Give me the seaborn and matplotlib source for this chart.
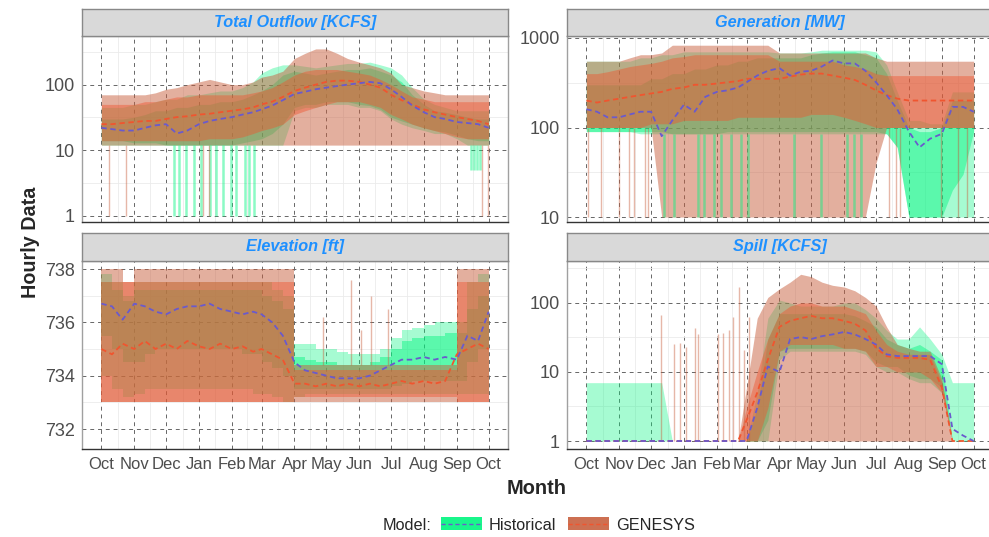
import pandas as pd
import matplotlib
matplotlib.use("Agg")
import matplotlib.pyplot as plt
import matplotlib.ticker as mticker
from matplotlib.patches import Patch
from matplotlib.lines import Line2D
import seaborn as sns

# x grid: 1st, 11th and 21st of every month of the water year, plus the closing Oct 1
months = [(2000, 10), (2000, 11), (2000, 12)] + [(2001, m) for m in range(1, 10)]
dates = [pd.Timestamp(y, m, d) for y, m in months for d in (1, 11, 21)] + [pd.Timestamp(2001, 10, 1)]
month_ticks = [pd.Timestamp(y, m, 1) for y, m in months] + [pd.Timestamp(2001, 10, 1)]
month_labels = ["Oct", "Nov", "Dec", "Jan", "Feb", "Mar", "Apr", "May", "Jun", "Jul", "Aug", "Sep", "Oct"]
start = month_ticks[0]

# ---- Total Outflow [KCFS] ----
outflow_hist_lo = [12, 12, 12, 12, 12, 12, 12, 12, 12, 12, 12, 12, 12, 12, 12, 12, 12, 12, 40, 45, 45, 50, 50, 50, 45, 45, 40, 30, 25, 22, 20, 18, 18, 15, 12, 12, 12]
outflow_hist_in_lo = [14, 14, 14, 13, 13, 13, 12, 12, 12, 12, 12, 12, 12, 13, 14, 15, 18, 25, 45, 50, 50, 55, 55, 55, 50, 48, 42, 32, 28, 25, 22, 20, 19, 17, 15, 14, 14]
outflow_hist_in_hi = [30, 30, 30, 32, 35, 40, 40, 45, 45, 50, 50, 55, 55, 60, 70, 80, 100, 140, 160, 150, 140, 150, 160, 170, 170, 180, 160, 140, 110, 70, 50, 40, 38, 35, 32, 30, 30]
outflow_hist_hi = [45, 45, 45, 50, 50, 55, 60, 60, 70, 70, 75, 80, 80, 90, 110, 150, 180, 200, 200, 190, 180, 190, 200, 210, 210, 220, 200, 180, 140, 90, 60, 50, 45, 40, 40, 40, 40]
outflow_hist_mean = [22, 21, 20, 20, 22, 24, 25, 18, 20, 25, 28, 30, 32, 35, 38, 42, 48, 58, 72, 78, 85, 90, 95, 100, 105, 110, 105, 85, 65, 48, 38, 32, 30, 27, 26, 25, 22]
outflow_gen_lo = [12] * 37
outflow_gen_hi = [70, 70, 70, 70, 70, 75, 85, 90, 100, 110, 120, 110, 100, 100, 110, 130, 140, 160, 250, 300, 350, 350, 300, 250, 220, 200, 180, 150, 100, 90, 80, 75, 70, 70, 70, 70, 70]
outflow_gen_tr_lo = [14, 14, 14, 14, 14, 14, 14, 14, 14, 14, 15, 15, 15, 16, 18, 20, 22, 25, 35, 40, 45, 50, 55, 55, 55, 50, 45, 35, 30, 25, 22, 20, 18, 16, 15, 15, 15]
outflow_gen_tr_hi = [50, 50, 50, 50, 55, 55, 60, 65, 65, 70, 70, 70, 70, 70, 75, 80, 90, 110, 140, 160, 170, 170, 170, 160, 150, 140, 120, 100, 80, 65, 60, 55, 55, 55, 55, 55, 55]
outflow_gen_mean = [25, 25, 26, 27, 28, 28, 30, 32, 33, 35, 36, 38, 40, 42, 45, 50, 55, 65, 80, 90, 100, 110, 115, 115, 110, 100, 90, 70, 58, 50, 42, 38, 35, 32, 30, 28, 25]
# short drop-outs (days after Oct 1, bottom value, top value)
outflow_hist_drop_day = [68, 73, 80, 87, 94, 102, 108, 115, 122, 127, 135, 139, 144, 348, 351, 354, 357]
outflow_hist_drop_lo = [1] * 13 + [5, 5, 5, 5]
outflow_hist_drop_hi = [12] * 17
outflow_gen_drop_day = [7, 23, 96, 101, 359, 364]
outflow_gen_drop_lo = [1] * 6
outflow_gen_drop_hi = [12] * 6

# ---- Generation [MW] ----
gen_hist_lo = [90, 90, 90, 90, 90, 85, 85, 85, 85, 85, 85, 85, 85, 85, 85, 85, 85, 85, 85, 85, 85, 85, 85, 85, 85, 85, 85, 85, 85, 60, 10, 10, 10, 10, 10, 10, 10]
gen_hist_in_lo = [90, 90, 90, 90, 90, 90, 90, 90, 85, 85, 85, 85, 85, 90, 90, 90, 90, 90, 90, 90, 90, 90, 90, 90, 90, 90, 90, 90, 85, 60, 10, 10, 10, 10, 20, 30, 90]
gen_hist_in_hi = [300, 300, 300, 300, 300, 300, 350, 350, 400, 400, 450, 450, 500, 500, 550, 550, 600, 600, 600, 600, 600, 650, 680, 700, 700, 700, 650, 600, 400, 200, 100, 90, 90, 100, 200, 200, 200]
gen_hist_hi = [550, 550, 550, 550, 550, 600, 600, 650, 650, 700, 700, 700, 700, 700, 700, 700, 700, 700, 680, 680, 680, 700, 730, 730, 730, 730, 730, 700, 500, 250, 120, 120, 110, 110, 250, 250, 250]
gen_hist_mean = [160, 150, 130, 130, 140, 150, 150, 80, 120, 180, 150, 220, 250, 260, 280, 320, 380, 430, 460, 380, 420, 430, 480, 560, 520, 520, 430, 320, 230, 160, 90, 60, 75, 85, 170, 170, 150]
gen_gen_lo = [100, 100, 100, 100, 100, 100, 100, 10, 10, 10, 10, 10, 10, 10, 10, 10, 10, 10, 10, 10, 10, 10, 10, 10, 10, 10, 10, 40, 100, 100, 100, 100, 100, 100, 100, 100, 100]
gen_gen_hi = [550, 550, 550, 550, 600, 650, 650, 680, 830, 830, 830, 830, 830, 830, 830, 830, 830, 830, 680, 680, 680, 680, 680, 680, 680, 680, 680, 600, 550, 550, 550, 550, 550, 550, 550, 550, 550]
gen_gen_tr_lo = [100, 100, 100, 100, 100, 100, 110, 110, 110, 120, 120, 120, 120, 120, 130, 130, 130, 130, 130, 130, 130, 140, 140, 140, 130, 120, 110, 100, 100, 100, 100, 100, 100, 100, 100, 100, 100]
gen_gen_tr_hi = [400, 400, 420, 450, 480, 500, 520, 550, 600, 620, 650, 650, 650, 650, 650, 650, 650, 650, 550, 550, 550, 550, 550, 550, 500, 480, 450, 400, 380, 380, 380, 380, 380, 380, 380, 380, 380]
gen_gen_mean = [200, 190, 200, 210, 220, 230, 240, 250, 270, 280, 300, 300, 310, 320, 330, 350, 350, 350, 350, 370, 390, 400, 400, 380, 360, 340, 300, 260, 230, 210, 200, 200, 200, 200, 200, 200, 200]
gen_hist_drop_day = [73, 83, 105, 111, 120, 127, 136, 146, 152, 196, 221, 246, 252, 259]
gen_hist_drop_lo = [10] * 14
gen_hist_drop_hi = [85] * 14
gen_gen_drop_day = [2, 14, 31, 40, 45, 55, 58, 285, 292, 296, 334, 350, 359]
gen_gen_drop_lo = [10] * 13
gen_gen_drop_hi = [100] * 13

# ---- Elevation [ft] ----
elev_hist_lo = [734.0, 733.5, 733.2, 733.3, 733.5, 733.5, 733.5, 733.5, 733.5, 733.5, 733.5, 733.5, 733.5, 733.5, 733.3, 733.3, 733.2, 733.0, 733.2, 733.3, 733.3, 733.3, 733.3, 733.3, 733.3, 733.3, 733.3, 733.3, 733.3, 733.3, 733.3, 733.3, 733.3, 733.3, 733.3, 733.3, 733.3]
elev_hist_in_lo = [735.5, 735.0, 734.5, 734.5, 734.8, 735.0, 735.0, 735.0, 735.0, 735.0, 735.0, 735.0, 735.0, 734.8, 734.8, 734.5, 734.3, 734.0, 733.5, 733.5, 733.5, 733.5, 733.5, 733.5, 733.5, 733.5, 733.5, 733.6, 733.7, 733.8, 733.8, 733.8, 733.8, 733.8, 734.5, 735.0, 735.5]
elev_hist_in_hi = [737.5, 737.2, 736.8, 737.2, 737.2, 737.2, 737.2, 737.2, 737.2, 737.2, 737.2, 737.2, 737.2, 737.2, 737.2, 737.0, 736.8, 736.5, 734.7, 734.6, 734.5, 734.5, 734.4, 734.4, 734.4, 734.5, 734.7, 735.0, 735.3, 735.4, 735.5, 735.5, 735.6, 735.6, 736.5, 737.0, 737.2]
elev_hist_hi = [737.8, 737.5, 737.0, 737.5, 737.5, 737.5, 737.5, 737.5, 737.5, 737.5, 737.5, 737.5, 737.5, 737.5, 737.5, 737.5, 737.2, 737.0, 735.2, 735.2, 735.0, 735.0, 734.9, 734.8, 734.8, 734.8, 735.0, 735.4, 735.7, 735.8, 735.9, 736.0, 736.0, 736.0, 737.5, 737.8, 737.8]
elev_hist_mean = [736.7, 736.6, 736.1, 736.7, 736.6, 736.4, 736.3, 736.5, 736.6, 736.6, 736.7, 736.5, 736.4, 736.3, 736.4, 736.3, 736.0, 735.5, 734.5, 734.2, 734.1, 734.0, 733.9, 733.9, 733.9, 734.0, 734.2, 734.4, 734.6, 734.6, 734.7, 734.6, 734.7, 734.6, 735.5, 735.3, 736.4]
elev_gen_lo = [733.0] * 37
elev_gen_hi = [738, 738, 737.5, 738, 738, 738, 738, 738, 738, 738, 738, 738, 738, 738, 738, 738, 738, 738, 734.4, 734.4, 734.4, 734.4, 734.4, 734.4, 734.4, 734.4, 734.4, 734.4, 734.4, 734.4, 734.4, 734.4, 734.4, 738, 738, 738, 738]
elev_gen_tr_lo = [733.0] * 18 + [733.2] * 15 + [733.0] * 4
elev_gen_tr_hi = [737.5] * 18 + [734.2] * 15 + [737.5] * 4
elev_gen_mean = [735.0, 734.8, 735.2, 735.0, 735.3, 735.0, 735.2, 735.0, 735.3, 735.1, 735.0, 735.2, 735.0, 735.1, 734.9, 735.0, 734.8, 734.6, 733.7, 733.7, 733.6, 733.7, 733.6, 733.7, 733.6, 733.7, 733.6, 733.7, 733.8, 733.7, 733.8, 733.7, 733.8, 734.8, 735.0, 735.2, 735.0]
elev_hist_drop_day = []
elev_hist_drop_lo = []
elev_hist_drop_hi = []
elev_gen_drop_day = [209, 235, 245, 254, 270]
elev_gen_drop_lo = [734.4] * 5
elev_gen_drop_hi = [736.2, 737.6, 735.7, 737.0, 736.5]

# ---- Spill [KCFS] ----
spill_hist_lo = [1, 1, 1, 1, 1, 1, 1, 1, 1, 1, 1, 1, 1, 1, 1, 1, 1, 1, 15, 20, 20, 20, 20, 20, 20, 20, 18, 12, 10, 10, 8, 7, 7, 5, 1, 1, 1]
spill_hist_in_lo = [1, 1, 1, 1, 1, 1, 1, 1, 1, 1, 1, 1, 1, 1, 1, 1, 1, 2, 20, 22, 22, 22, 22, 22, 22, 22, 20, 14, 12, 12, 9, 8, 8, 6, 1, 1, 1]
spill_hist_in_hi = [1, 1, 1, 1, 1, 1, 1, 1, 1, 1, 1, 1, 1, 1, 1, 1, 3, 30, 70, 70, 70, 70, 70, 70, 70, 65, 55, 45, 30, 25, 22, 25, 20, 15, 1, 1, 1]
spill_hist_hi = [7, 7, 7, 7, 7, 7, 7, 7, 1, 1, 1, 1, 1, 1, 1, 1, 5, 60, 110, 100, 90, 90, 90, 90, 100, 100, 80, 60, 40, 30, 30, 45, 30, 18, 7, 7, 7]
spill_hist_mean = [1, 1, 1, 1, 1, 1, 1, 1, 1, 1, 1, 1, 1, 1, 1, 1, 3, 12, 10, 30, 32, 30, 33, 35, 38, 35, 30, 25, 18, 17, 17, 17, 17, 13, 1.5, 1.2, 1]
spill_gen_lo = [1] * 37
spill_gen_hi = [1, 1, 1, 1, 1, 1, 1, 1, 1, 1, 1, 1, 1, 1, 1, 6, 60, 120, 160, 200, 260, 240, 200, 180, 170, 150, 120, 90, 45, 25, 22, 20, 20, 8, 1, 1, 1]
spill_gen_tr_lo = [1] * 17 + [3, 20, 25, 25, 25, 25, 25, 22, 22, 20, 12, 12, 10, 10, 10, 8, 5, 1, 1, 1]
spill_gen_tr_hi = [1, 1, 1, 1, 1, 1, 1, 1, 1, 1, 1, 1, 1, 1, 1, 3, 10, 30, 70, 90, 100, 100, 90, 90, 90, 80, 70, 40, 25, 20, 18, 18, 18, 7, 1, 1, 1]
spill_gen_mean = [1, 1, 1, 1, 1, 1, 1, 1, 1, 1, 1, 1, 1, 1, 1, 2, 5, 15, 45, 55, 60, 65, 60, 60, 55, 50, 40, 22, 17, 16, 16, 16, 15, 6, 1, 1, 1]
spill_hist_drop_day = []
spill_hist_drop_lo = []
spill_hist_drop_hi = []
spill_gen_drop_day = [70, 83, 88, 94, 102, 105, 124, 129, 134, 138, 144, 149, 153]
spill_gen_drop_lo = [1] * 13
spill_gen_drop_hi = [67, 25, 26, 23, 43, 35, 35, 37, 41, 63, 170, 21, 63]

HIST_FILL = "#00F57F"
HIST_LINE = "#6A5ACD"
GEN_FILL = "#C8603F"
GEN_LINE = "#F0552F"

sns.set_style("white")
plt.rcParams["font.family"] = ["Liberation Sans", "DejaVu Sans"]

W, H = 989, 537
fig = plt.figure(figsize=(W / 100, H / 100), dpi=100)


def px_axes(x0, y0, x1, y1):
    return fig.add_axes([x0 / W, 1 - y1 / H, (x1 - x0) / W, (y1 - y0) / H])


def panel(title, box, strip, log, ylim, yticks, labels, prefix):
    g = globals()
    return dict(title=title, box=box, strip=strip, log=log, ylim=ylim, yticks=yticks, labels=labels,
                **{k: g[prefix + "_" + k] for k in [
                    "hist_lo", "hist_in_lo", "hist_in_hi", "hist_hi", "hist_mean",
                    "gen_lo", "gen_hi", "gen_tr_lo", "gen_tr_hi", "gen_mean",
                    "hist_drop_day", "hist_drop_lo", "hist_drop_hi",
                    "gen_drop_day", "gen_drop_lo", "gen_drop_hi"]})


panels = [
    panel("Total Outflow [KCFS]", (82, 36, 508, 222), (9, 36), True, (0.81, 550), [1, 10, 100], False, "outflow"),
    panel("Generation [MW]", (567, 36, 993, 222), (9, 36), True, (8.8, 1052), [10, 100, 1000], False, "gen"),
    panel("Elevation [ft]", (82, 261, 508, 449), (233, 261), False, (731.25, 738.3), [732, 734, 736, 738], True, "elev"),
    panel("Spill [KCFS]", (567, 261, 993, 449), (233, 261), True, (0.766, 405), [1, 10, 100], True, "spill"),
]

pad = pd.Timedelta(days=18.25)
minor_x = [a + (b - a) / 2 for a, b in zip(month_ticks[:-1], month_ticks[1:])]
dash = (0, (4, 4))

for p in panels:
    x0, y0, x1, y1 = p["box"]
    ax = px_axes(x0, y0, x1, y1)
    step = None if p["log"] else "post"

    ax.fill_between(dates, p["hist_lo"], p["hist_hi"], color=HIST_FILL, alpha=0.35, lw=0, step=step)
    ax.fill_between(dates, p["hist_in_lo"], p["hist_in_hi"], color=HIST_FILL, alpha=0.45, lw=0, step=step)
    hd = [start + pd.Timedelta(days=d) for d in p["hist_drop_day"]]
    if hd:
        ax.vlines(hd, p["hist_drop_lo"], p["hist_drop_hi"], color=HIST_FILL, alpha=0.45, lw=1.8)
    ax.fill_between(dates, p["gen_lo"], p["gen_hi"], color=GEN_FILL, alpha=0.5, lw=0, step=step)
    gd = [start + pd.Timedelta(days=d) for d in p["gen_drop_day"]]
    if gd:
        ax.vlines(gd, p["gen_drop_lo"], p["gen_drop_hi"], color=GEN_FILL, alpha=0.45, lw=1.0)
    ax.fill_between(dates, p["gen_tr_lo"], p["gen_tr_hi"], color=GEN_LINE, alpha=0.45, lw=0, step=step)

    lines = pd.DataFrame({
        "date": dates * 2,
        "value": list(p["gen_mean"]) + list(p["hist_mean"]),
        "Model": ["GENESYS"] * len(dates) + ["Historical"] * len(dates),
    })
    sns.lineplot(data=lines, x="date", y="value", hue="Model", style="Model",
                 hue_order=["GENESYS", "Historical"],
                 palette={"GENESYS": GEN_LINE, "Historical": HIST_LINE},
                 dashes={"GENESYS": (3, 2), "Historical": (3, 2)},
                 lw=1.3, legend=False, ax=ax)

    if p["log"]:
        ax.set_yscale("log")
        ax.yaxis.set_minor_locator(mticker.FixedLocator([t * 10 ** 0.5 for t in p["yticks"]]))
    else:
        ax.yaxis.set_minor_locator(mticker.FixedLocator([733, 735, 737]))
    ax.set_ylim(*p["ylim"])
    ax.yaxis.set_major_locator(mticker.FixedLocator(p["yticks"]))
    ax.yaxis.set_major_formatter(mticker.FixedFormatter([str(t) for t in p["yticks"]]))
    ax.yaxis.set_minor_formatter(mticker.NullFormatter())

    ax.set_xlim(month_ticks[0] - pad, month_ticks[-1] + pad)
    ax.set_xticks(month_ticks)
    ax.set_xticks(minor_x, minor=True)
    if p["labels"]:
        ax.set_xticklabels(month_labels)
        ax.tick_params(axis="x", which="major", length=3, color="#333333", labelsize=12,
                       labelcolor="#4D4D4D", pad=3)
    else:
        ax.set_xticklabels([])
        ax.tick_params(axis="x", which="major", length=0)
    ax.tick_params(axis="y", which="major", length=3, color="#333333", labelsize=13,
                   labelcolor="#4D4D4D", pad=2)
    ax.tick_params(which="minor", length=0)

    ax.set_axisbelow(True)
    ax.grid(which="minor", color="#EBEBEB", lw=0.6, ls="-")
    ax.grid(which="major", color="#666666", lw=0.7, ls=dash)
    ax.set_xlabel("")
    ax.set_ylabel("")
    for side in ["top", "right", "left"]:
        ax.spines[side].set_color("#A0A0A0")
        ax.spines[side].set_linewidth(1.0)
    ax.spines["bottom"].set_color("#333333")
    ax.spines["bottom"].set_linewidth(1.0)

    # facet strip
    s0, s1 = p["strip"]
    sax = px_axes(x0, s0, x1, s1)
    sax.set_facecolor("#D9D9D9")
    sax.set_xticks([])
    sax.set_yticks([])
    for sp in sax.spines.values():
        sp.set_color("#888888")
        sp.set_linewidth(1.0)
    sax.text(0.5, 0.5, p["title"], transform=sax.transAxes, ha="center", va="center",
             fontsize=11.7, fontweight="bold", fontstyle="italic", color="#1E90FF")

fig.text(30 / W, 1 - 242 / H, "Hourly Data", rotation=90, ha="center", va="center",
         fontsize=14.2, fontweight="bold")
fig.text(537 / W, 1 - 488 / H, "Month", ha="center", va="center", fontsize=14.4, fontweight="bold")

handles = [
    (Patch(facecolor=HIST_FILL, alpha=0.9, lw=0), Line2D([], [], color=HIST_LINE, ls=(0, (3, 2)), lw=1)),
    (Patch(facecolor=GEN_FILL, alpha=0.9, lw=0), Line2D([], [], color=GEN_LINE, ls=(0, (3, 2)), lw=1)),
]
fig.legend(handles, ["Historical", "GENESYS"], ncol=2, loc="center",
           bbox_to_anchor=(568 / W, 1 - 525 / H), frameon=False, fontsize=11.7,
           handlelength=2.5, handleheight=0.85, columnspacing=0.7, handletextpad=0.45)
fig.text(432 / W, 1 - 525 / H, "Model:", ha="right", va="center", fontsize=11.7)

fig.savefig("out.png", dpi=100)
